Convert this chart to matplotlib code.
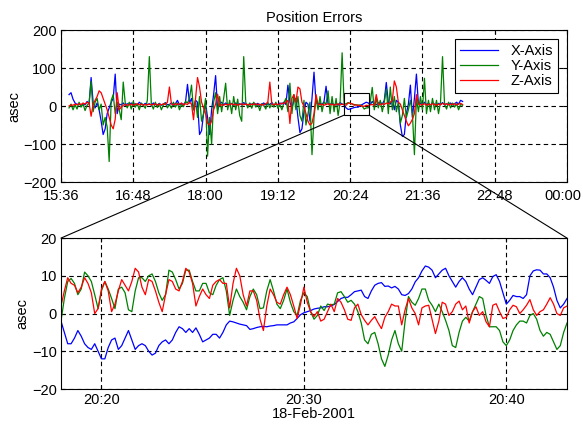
import numpy as np
import matplotlib.pyplot as plt
import matplotlib.transforms as mtransforms
from matplotlib.patches import Rectangle, ConnectionPatch

# overview: one sample every 2 min starting 15:44
x_top = [30, 35, 18, 8, 4, 6, 2, 5, 3, 12,
         5, 75, 10, -5, 8, -10, -40, -75, -60, -20,
         -5, 10, 20, 84, -20, 5, 3, 8, 2, 6,
         4, 8, 3, 6, 2, 10, 5, 3, 7, 4,
         6, 2, 8, 4, 3, 7, 2, 5, 9, 3,
         4, 8, 2, 6, 15, 3, 7, 4, 10, 57,
         8, 20, -10, 15, 10, -75, -65, -20, 5, -30,
         -75, -10, 30, 80, -10, 5, 10, 3, 8, 5,
         3, 7, 2, 8, 4, 6, 3, 9, 5, 2,
         6, 4, 8, 3, 7, 2, 5, 8, 3, 6,
         4, 9, 3, 6, 2, 8, 5, 10, 4, 55,
         10, -5, 15, 20, -30, -70, -60, -15, 10, 5,
         -40, 20, 89, 10, 5, 8, 3, 12, 52, 6,
         4, 8, 3, 6, 2, 9, 5, 3, -5, -9,
         -8, -6, -4, -3, -3, 1, 4, 7, 10, 8,
         4, 12, 5, 3, 8, 10, 5, 15, 62, 10,
         5, 20, -10, 15, 10, -50, -80, -75, -20, 5,
         55, -30, 20, 84, 5, 8, 3, 10, 4, 7,
         3, 8, 5, 2, 7, 4, 9, 3, 6, 4,
         8, 3, 6, 10, 5, 15, 12]
y_top = [-5, 5, -10, 3, -8, 10, -3, 5, -12, 2,
         8, 65, -15, 10, 20, -10, 5, -50, -30, -55,
         -146, 15, 30, -20, 10, -10, -36, 63, 8, -5,
         10, -8, 12, -3, 6, -10, 8, 2, -6, 15,
         130, 5, -8, 10, -4, 6, -10, 3, 8, -5,
         4, -6, 10, -3, 8, -10, 5, -2, 12, 8,
         20, 55, -10, 15, -30, 25, -40, -20, 20, -132,
         -30, -100, 10, 35, -20, 25, -15, 20, 60, -10,
         15, -20, 25, -10, 18, -25, -40, 130, 10, -5,
         8, -6, 10, -3, 5, -12, 6, 2, -8, 10,
         -5, 8, -3, 10, -6, 4, -10, 8, 20, -15,
         60, -20, 30, -10, 25, -25, -40, 15, -50, -20,
         10, -128, -30, 20, -10, 25, -15, 10, 5, 40,
         -20, 25, -15, 20, -25, 10, 140, 5, 6, 9,
         7, 5, 4, 3, 2, 3, 0, -8, -5, -5,
         10, 49, -10, 20, -5, 15, -15, 10, 45, -20,
         50, -10, 25, -15, 10, -45, -25, 20, -30, -10,
         15, -20, -128, 20, -15, 25, -10, 73, -20, 15,
         -15, 20, -10, 15, -20, 10, 130, 5, -8, 10,
         -5, 8, -3, 6, -10, 4, 2]
z_top = [0, 3, 2, 5, 3, 6, 4, 8, 5, 10,
         8, -27, 5, 15, 25, 40, 35, 20, 5, -10,
         -30, -50, -60, -35, 35, -10, -3, 2, 4, 2,
         3, 5, 2, 4, 6, 3, 5, 2, 4, 3,
         5, 3, 4, 6, 2, 5, 3, 6, 4, 10,
         50, 5, 3, 6, 4, 5, 8, 3, 6, 4,
         10, 5, -36, 20, 75, 50, 10, -5, -20, -45,
         -50, -40, -10, 5, 31, 0, 4, 2, 5, 3,
         4, 6, 3, 5, 2, 4, 6, 3, 5, 4,
         3, 5, 4, 6, 3, 5, 2, 4, 6, 10,
         63, 5, 3, 6, 4, 5, 8, 6, 10, 15,
         -46, 20, 30, 10, 50, 45, 10, 0, -20, -40,
         -50, -45, -20, 30, 5, 3, 5, 2, 4, 6,
         3, 5, 2, 4, 6, 3, 5, 4, 2, 8,
         7, 6, 2, 3, 2, 1, 0, -1, 2, 1,
         3, 4, 2, 30, 5, 3, 6, 4, 8, 5,
         10, 15, 66, 50, 10, 5, -10, -25, -40, -52,
         -45, -35, -20, 30, 5, 3, 4, 6, 2, 5,
         3, 6, 4, 2, 5, 3, 7, 4, 6, 3,
         5, 4, 6, 3, 5, 7, 4]

# zoom: one sample every 10 s starting 20:18
x_zoom = [-2, -5, -8, -8, -6.5, -4.5, -6, -8, -9, -9.5,
          -8, -10, -12, -12, -9, -7, -6.5, -9.5, -8.5, -6.5,
          -4.5, -7, -9.5, -8.5, -8, -8.5, -10, -11, -10.5, -8.5,
          -7.5, -7, -8, -7, -5, -3.5, -4, -5, -4, -5,
          -3.8, -5.5, -7.5, -7, -6.5, -5.5, -5.5, -6.5, -5, -3,
          -2, -2.2, -2.5, -2.8, -3, -3.2, -4.2, -4, -3.7, -3.5,
          -3.4, -3.5, -3.3, -3.2, -3, -3, -3, -3, -2.5, -2.2,
          -1.3, -0.3, 0.2, 0.5, 0.8, 1.2, 1.4, 1.5, 1.8, 1.8,
          2, 2.4, 3.2, 4, 4.3, 4.3, 5, 5.8, 6, 6.2,
          4.5, 4, 6, 7.5, 8, 8.2, 7.2, 7.3, 6.8, 7.2,
          6.5, 5, 4.8, 5.3, 6.5, 8.4, 9.5, 11.3, 12.6, 12.3,
          11.5, 9.5, 10.5, 11.5, 12, 10, 8.5, 7, 8.5, 9.5,
          8.5, 6.5, 5, 7, 9, 9.5, 8.8, 8, 9.8, 10.3,
          8.5, 5.5, 2.5, 3.5, 4.8, 4.5, 4.5, 4, 5, 10,
          11.3, 11.6, 11.5, 10.5, 10.5, 9.5, 7, 3.5, 1.5, 2.5,
          4]
y_zoom = [-2, 4, 8.5, 9.3, 8, 5, 6.5, 11, 10, 8.5,
          5, 1.3, 6, 8.5, 6.5, 4, 1.3, 6.5, 7, 5.5,
          1, 0.5, 6, 9.5, 9.5, 8.5, 10, 10.5, 8.5, 5.5,
          3.5, 5, 11.5, 11, 9, 6.5, 8, 11.5, 11.5, 8.5,
          6, 6, 8, 8, 5.5, 5, 7.5, 9, 9.5, 6,
          -0.5, 3.5, 6.5, 4.5, 3, 1, 4.5, 6.5, 5, 1.3,
          1.5, 6, 9, 6, 2.5, 1.3, 3.5, 6.5, 3, 0.5,
          -0.5, 3.5, 5.5, 4.5, 0.5, -1.5, -0.5, 2, 0.8, 2.5,
          2.3, 2.5, 5.5, 5.8, 4.5, 3, 3.5, 2.5, 0.5, -2.5,
          -7, -8, -5.5, -5, -8, -12, -14, -11, -7, -4.5,
          -8, -10, -2, 4.5, 3, 2.2, 4, 6.5, 6.5, 3.5,
          2.2, 0.5, 2.5, 0.5, -1.8, -4.5, -8.5, -9, -5, -2,
          -1, -2, 0.5, 2.5, 4.5, 4, -0.5, -3.5, -3.5, -3.5,
          -4.5, -7.5, -8.5, -7, -4.5, -3, -2, -2, -2.5, -0.5,
          0, -1.5, -4.5, -6, -5, -5.5, -7.5, -9.5, -8.5, -5,
          -2.5]
z_zoom = [2, 6, 9.5, 8, 7.5, 5.5, 7, 9.5, 8, 5.5,
          0, 1.3, 6.5, 8.5, 6, 0.5, 2.5, 6, 9, 7.5,
          6, 8.5, 12, 11, 7, 5, 9, 8.5, 6, 3,
          0.5, 5, 9, 8.5, 6.5, 6, 8.5, 12, 11, 8,
          2, 4.5, 6.5, 5, 4, 7.5, 8.5, 9, 8, 8,
          1.5, 8, 12, 10, 5, 2, 6, 6, 3.5, -1.5,
          -4.5, 2, 6.5, 5, 3, 2.5, 5, 7, 5, 2,
          -1.3, 2.5, 7, 3, 0.5, -0.8, 0.5, -2, -1.5, 0.5,
          2.5, 0.5, 4, 3, 1, -1.5, -1.8, 1.5, 2.5, -0.3,
          -1.8, -3, -1.8, -0.8, -2.5, -4, -1, 0.5, 2.5, 2,
          2, -3, 1, 4, 1.5, 0, -3, 1.5, 2, 2.2,
          -1.5, -5.3, -2, 3, 2.5, -0.5, 0.5, 2.5, 3.3, 1,
          2, -2.5, 0.5, 1.8, -0.5, 0.5, -2.2, -3.5, 2.2, 2.6,
          0.5, -1.3, -1, 1, 2.2, 1.8, 0, 1, 2.2, 3.7,
          1, -0.5, 0.5, 1, 2.5, 4.2, 2.5, 0, -0.5, 1.5,
          2]

top_ticks = ["15:36", "16:48", "18:00", "19:12", "20:24", "21:36", "22:48", "00:00"]
zoom_ticks = ["20:20", "20:30", "20:40"]
labels = ["X-Axis", "Y-Axis", "Z-Axis"]
colors = ["#0000ff", "#008000", "#ff0000"]

plt.rcParams['font.family'] = ['Liberation Sans', 'DejaVu Sans']
plt.rcParams['font.size'] = 10.5

t_top = 15 + 44 / 60 + np.arange(len(x_top)) * 2 / 60
t_zoom = 20.3 + np.arange(len(x_zoom)) * 10 / 3600
zoom_lo, zoom_hi = 20.3, 20.3 + 25 / 60

fig = plt.figure(figsize=(5.83, 4.30), dpi=100)
ax1 = fig.add_axes([0.1046, 0.5767, 0.868, 0.3535])
ax2 = fig.add_axes([0.1046, 0.0953, 0.868, 0.351])

grid_kw = dict(color="black", ls=(0, (4, 3)), lw=0.8)

for ser, c, lab in zip([x_top, y_top, z_top], colors, labels):
    ax1.plot(t_top, ser, color=c, lw=0.9, label=lab)
ax1.set_xlim(15.6, 24.0)
ax1.set_ylim(-200, 200)
ax1.set_yticks([-200, -100, 0, 100, 200])
ax1.set_xticks(15.6 + 1.2 * np.arange(len(top_ticks)))
ax1.set_xticklabels(top_ticks)
ax1.set_ylabel("asec", labelpad=2)
ax1.set_title("Position Errors", fontsize=10.5, pad=6)
ax1.grid(True, **grid_kw)
leg = ax1.legend(loc="upper right", fancybox=False, edgecolor="black",
                 framealpha=1, borderaxespad=0.6, handlelength=2.6,
                 handletextpad=0.9, borderpad=0.35, labelspacing=0.08)
leg.get_frame().set_linewidth(0.8)

# zoom box on the overview
box_lo, box_hi = -24, 34
ax1.add_patch(Rectangle((zoom_lo, box_lo), zoom_hi - zoom_lo, box_hi - box_lo,
                        fill=False, edgecolor="black", lw=0.8, zorder=5))

for ser, c in zip([x_zoom, y_zoom, z_zoom], colors):
    ax2.plot(t_zoom, ser, color=c, lw=0.9)
ax2.set_xlim(zoom_lo, zoom_hi)
ax2.set_ylim(-20, 20)
ax2.set_yticks([-20, -10, 0, 10, 20])
ax2.set_xticks([20 + 20 / 60, 20.5, 20 + 40 / 60])
ax2.set_xticklabels(zoom_ticks)
ax2.set_ylabel("asec", labelpad=2)
ax2.set_xlabel("18-Feb-2001", labelpad=0)
ax2.grid(True, **grid_kw)

for ax in (ax1, ax2):
    ax.tick_params(direction="in", top=True, right=True, length=3, pad=3)
    for s in ax.spines.values():
        s.set_linewidth(0.8)
ax1.tick_params(axis="x", pad=5)

# keep the last overview label inside the figure
last = ax1.get_xticklabels()[-1]
last.set_transform(last.get_transform() +
                   mtransforms.ScaledTranslation(-4 / 100, 0, fig.dpi_scale_trans))

for xa, xb in ((zoom_lo, 0), (zoom_hi, 1)):
    con = ConnectionPatch(xyA=(xa, box_lo), coordsA="data", axesA=ax1,
                          xyB=(xb, 1), coordsB="axes fraction", axesB=ax2,
                          color="black", lw=0.8)
    fig.add_artist(con)

fig.savefig("out.png", dpi=100)
